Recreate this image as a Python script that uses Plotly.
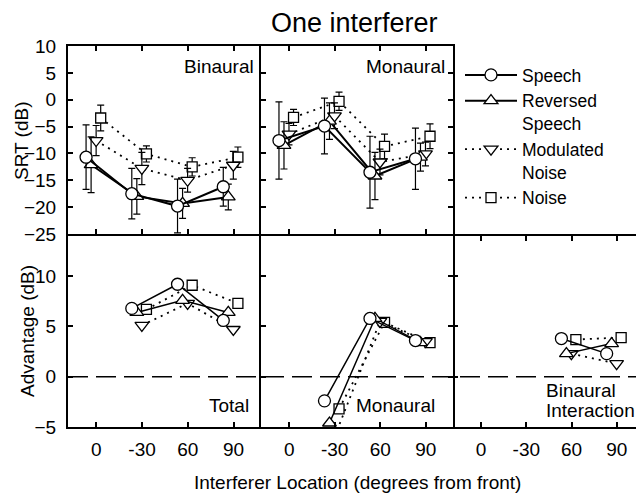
import plotly.graph_objects as go

# ---------------- data ----------------
loc_labels = ["0", "-30", "60", "90"]
series_names = ["Speech", "Reversed<br>Speech", "Modulated<br>Noise", "Noise"]

# SRT (dB), Binaural panel
srt_bin_speech = [-10.7, -17.5, -19.8, -16.2]
srt_bin_rev = [-12.1, -18.0, -19.3, -18.1]
srt_bin_mod = [-7.6, -12.8, -15.0, -12.2]
srt_bin_noise = [-3.4, -10.1, -12.5, -10.7]
err_bin_speech = [6.0, 4.7, 5.0, 3.6]
err_bin_rev = [5.2, 3.3, 2.8, 2.4]
err_bin_mod = [2.8, 3.0, 2.2, 2.6]
err_bin_noise = [2.4, 1.5, 1.7, 1.9]

# SRT (dB), Monaural panel
srt_mon_speech = [-7.6, -4.9, -13.5, -11.0]
srt_mon_rev = [-8.5, -4.0, -14.2, -10.7]
srt_mon_mod = [-6.4, -3.0, -11.6, -10.1]
srt_mon_noise = [-3.3, -0.3, -8.7, -6.8]
err_mon_speech = [7.2, 5.2, 6.7, 5.7]
err_mon_rev = [4.4, 3.4, 4.4, 2.6]
err_mon_mod = [2.0, 2.4, 2.4, 2.2]
err_mon_noise = [1.5, 1.7, 2.3, 2.3]

# Advantage (dB), Total
adv_tot_speech = [None, 6.8, 9.2, 5.6]
adv_tot_rev = [None, 6.4, 7.6, 6.4]
adv_tot_mod = [None, 5.1, 7.3, 4.7]
adv_tot_noise = [None, 6.7, 9.1, 7.3]

# Advantage (dB), Monaural
adv_mon_speech = [None, -2.4, 5.8, 3.6]
adv_mon_rev = [None, -4.6, 5.8, 3.4]
adv_mon_mod = [None, -6.0, 5.5, 3.5]
adv_mon_noise = [None, -3.2, 5.4, 3.4]

# Advantage (dB), Binaural interaction
adv_bi_speech = [None, None, 3.8, 2.3]
adv_bi_rev = [None, None, 2.3, 3.3]
adv_bi_mod = [None, None, 2.3, 1.3]
adv_bi_noise = [None, None, 3.7, 3.9]

# ---------------- styling ----------------
PAGE_OFF = 8                     # default page margin of the browser
W, H = 644 - PAGE_OFF, 494 - PAGE_OFF
FONT = "Liberation Sans, Arial, Helvetica, sans-serif"
symbols = ["circle", "triangle-up", "triangle-down", "square"]
msizes = [12, 12, 12, 10]
dashes = ["solid", "solid", "2px,5px", "2px,5px"]
offsets = [-0.225, -0.115, -0.005, 0.095]


def fx(px):
    return (px - PAGE_OFF) / W


def fy(py):
    return 1 - (py - PAGE_OFF) / H


fig = go.Figure()

panels = [
    ("", [srt_bin_speech, srt_bin_rev, srt_bin_mod, srt_bin_noise],
     [err_bin_speech, err_bin_rev, err_bin_mod, err_bin_noise], 2.0),
    ("2", [srt_mon_speech, srt_mon_rev, srt_mon_mod, srt_mon_noise],
     [err_mon_speech, err_mon_rev, err_mon_mod, err_mon_noise], 2.0),
    ("3", [adv_tot_speech, adv_tot_rev, adv_tot_mod, adv_tot_noise], None, 1.5),
    ("4", [adv_mon_speech, adv_mon_rev, adv_mon_mod, adv_mon_noise], None, 1.5),
    ("5", [adv_bi_speech, adv_bi_rev, adv_bi_mod, adv_bi_noise], None, 1.5),
]

for p, (suf, vals, errs, lw) in enumerate(panels):
    for s in [3, 2, 1, 0]:
        xs = [i + offsets[s] for i in range(len(loc_labels))]
        tr = dict(
            x=xs, y=vals[s], mode="lines+markers",
            name=series_names[s], legendrank=s + 1,
            showlegend=(p == 0),
            xaxis="x" + suf, yaxis="y" + suf,
            line=dict(color="black", width=(lw if s < 2 else 1.8), dash=dashes[s]),
            marker=dict(symbol=symbols[s], size=msizes[s], color="white",
                        line=dict(color="black", width=1.3)),
            connectgaps=False,
        )
        if errs is not None:
            tr["error_y"] = dict(type="data", array=errs[s], visible=True,
                                 color="black", thickness=1.2, width=3.5)
        fig.add_trace(go.Scatter(**tr))

# ---------------- axes ----------------
cols = [(68, 261), (261, 453), (453, 644)]
top_row = (46, 234)
bot_row = (236, 427)
xrange_ = [-0.62, 3.6]

tickfont = dict(family=FONT, size=19, color="black")


def xax(col, showlabels, anchor, mirror="ticks"):
    return dict(domain=[fx(cols[col][0]), min(1.0, fx(cols[col][1]))], range=xrange_,
                tickvals=[0, 1, 2, 3], ticktext=loc_labels, ticks="inside",
                ticklen=5, tickwidth=1.5, tickcolor="black",
                showline=True, linewidth=2, linecolor="black", mirror=mirror,
                showgrid=False, zeroline=False, showticklabels=showlabels,
                tickfont=tickfont, anchor=anchor, fixedrange=True,
                automargin=False, ticklabelstandoff=4)


def yax(row, rng, tv, showlabels, anchor, mirror="ticks", showline=True):
    return dict(domain=[fy(row[1]), fy(row[0])], range=rng, tickvals=tv,
                ticks="inside", ticklen=5, tickwidth=1.5, tickcolor="black",
                showline=showline, linewidth=2, linecolor="black", mirror=mirror,
                showgrid=False, zeroline=False, showticklabels=showlabels,
                tickfont=tickfont, anchor=anchor, fixedrange=True,
                automargin=False, ticklabelstandoff=6)


top_ticks = [-25, -20, -15, -10, -5, 0, 5, 10]
bot_ticks = [-5, 0, 5, 10]

fig.update_layout(
    xaxis=xax(0, False, "y"),
    yaxis=yax(top_row, [-25, 10], top_ticks, True, "x", mirror=False),
    xaxis2=xax(1, False, "y2"),
    yaxis2=yax(top_row, [-25, 10], top_ticks, False, "x2"),
    xaxis3=xax(0, True, "y3", mirror=False),
    yaxis3=yax(bot_row, [-5, 14], bot_ticks, True, "x3", mirror=False),
    xaxis4=xax(1, True, "y4", mirror=False),
    yaxis4=yax(bot_row, [-5, 14], bot_ticks, False, "x4"),
    xaxis5=xax(2, True, "y5"),
    yaxis5=yax(bot_row, [-5, 14], bot_ticks, False, "x5", mirror=False,
               showline=False),
)

# dashed zero line across bottom row
fig.add_shape(type="line", xref="paper", yref="y3", x0=fx(68), x1=1.0,
              y0=0, y1=0, line=dict(color="black", width=1.5, dash="20px,8px"))

# ---------------- text ----------------
lab = dict(family=FONT, size=19, color="black")
ann = [
    dict(text="One interferer", x=fx(354), y=fy(23), xanchor="center",
         yanchor="middle", font=dict(family=FONT, size=27, color="black")),
    dict(text="SRT (dB)", x=fx(21), y=fy(141), xanchor="center",
         yanchor="middle", textangle=-90, font=lab),
    dict(text="Advantage (dB)", x=fx(27), y=fy(331), xanchor="center",
         yanchor="middle", textangle=-90, font=lab),
    dict(text="Interferer Location (degrees from front)", x=fx(357), y=fy(482),
         xanchor="center", yanchor="middle", font=lab),
    dict(text="Binaural", x=fx(256), y=fy(66), xanchor="right", yanchor="middle", font=lab),
    dict(text="Monaural", x=fx(447), y=fy(66), xanchor="right", yanchor="middle", font=lab),
    dict(text="Total", x=fx(251), y=fy(405), xanchor="right", yanchor="middle", font=lab),
    dict(text="Monaural", x=fx(437), y=fy(405), xanchor="right", yanchor="middle", font=lab),
    dict(text="Binaural", x=fx(544), y=fy(390), xanchor="left", yanchor="middle", font=lab),
    dict(text="Interaction", x=fx(544), y=fy(410), xanchor="left", yanchor="middle", font=lab),
]
for a in ann:
    a.update(xref="paper", yref="paper", showarrow=False)
fig.update_layout(annotations=ann)

fig.update_layout(
    width=W, height=H, margin=dict(l=0, r=0, t=0, b=0, autoexpand=False),
    plot_bgcolor="white", paper_bgcolor="white",
    font=dict(family=FONT, color="black"),
    showlegend=True,
    legend=dict(x=fx(460), y=fy(57), xanchor="left", yanchor="top",
                bgcolor="rgba(0,0,0,0)", borderwidth=0,
                font=dict(family=FONT, size=17.5, color="black"),
                itemwidth=52, valign="top", tracegroupgap=0,
                traceorder="normal"),
)

fig.write_html("out.html")
